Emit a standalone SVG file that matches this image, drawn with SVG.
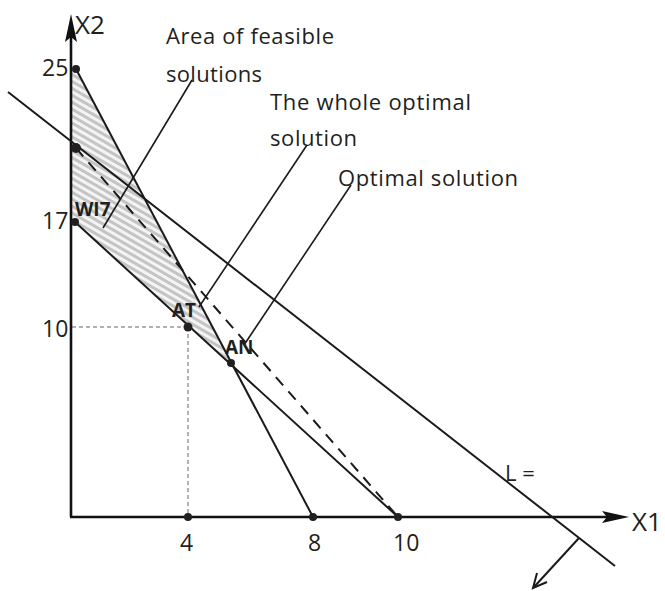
<svg xmlns="http://www.w3.org/2000/svg" width="665" height="591" viewBox="0 0 665 591">
<style>
text{font-family:"Open Sans","Liberation Sans",sans-serif;fill:#231f20}
.lbl{font-size:22px}
.num{font-size:23px}
.ax{font-size:26px}
.pt{font-size:19px;font-weight:bold}
.ln{stroke:#1a1a1a;stroke-width:2;fill:none}
.lead{stroke:#1a1a1a;stroke-width:1.6;fill:none}
.guide{stroke:#666;stroke-width:1;stroke-dasharray:4 3;fill:none}
.dot{fill:#231f20}
</style>
<defs>
<pattern id="hatch" width="6" height="6" patternUnits="userSpaceOnUse" patternTransform="rotate(-60)">
<rect width="6" height="6" fill="#f4f4f4"/>
<rect width="3" height="6" fill="#c4c4c4"/>
</pattern>
</defs>
<rect width="665" height="591" fill="#fff"/>
<g id="feasible-area">
<polygon points="72,69 76,69 231,363 75,222 72,222" fill="url(#hatch)"/>
</g>
<g id="guides">
<line class="guide" x1="72" y1="327" x2="188" y2="327"/>
<line class="guide" x1="188" y1="327" x2="188" y2="517"/>
</g>
<g id="axes">
<line x1="71" y1="517" x2="71" y2="30" stroke="#111" stroke-width="2.6"/>
<path d="M71,14 L77,42 L71,37 L65,42 Z" fill="#111"/>
<line x1="70" y1="517" x2="612" y2="517" stroke="#111" stroke-width="2.6"/>
<path d="M629,517 L602,511 L607,517 L602,523 Z" fill="#111"/>
<text class="ax" x="75" y="34">X2</text>
<text class="ax" x="632" y="531">X1</text>
</g>
<g id="connectors">
<line class="ln" x1="76" y1="69" x2="313" y2="517"/>
<line class="ln" x1="75" y1="222" x2="398" y2="517"/>
<line class="ln" x1="76" y1="148" x2="398" y2="517" stroke-dasharray="11 8"/>
<line class="ln" x1="8" y1="92" x2="615" y2="566"/>
<line class="ln" x1="579" y1="538" x2="534" y2="587"/>
<path class="ln" d="M537,573 L533,588 L547,582"/>
<line class="lead" x1="192" y1="80" x2="103" y2="228"/>
<line class="lead" x1="307" y1="145" x2="199" y2="307"/>
<line class="lead" x1="351" y1="185" x2="244" y2="345"/>
</g>
<g id="points">
<circle class="dot" cx="76" cy="69" r="4"/>
<circle class="dot" cx="76" cy="148" r="5"/>
<circle class="dot" cx="75" cy="222" r="4"/>
<circle class="dot" cx="188" cy="327" r="4.5"/>
<circle class="dot" cx="231" cy="363" r="4"/>
<circle class="dot" cx="188" cy="517" r="4"/>
<circle class="dot" cx="313" cy="517" r="4"/>
<circle class="dot" cx="398" cy="517" r="4"/>
</g>
<g id="axis-labels">
<text class="num" x="42" y="76">25</text>
<text class="num" x="42" y="229">17</text>
<text class="num" x="42" y="337">10</text>
<text class="num" x="180" y="551">4</text>
<text class="num" x="308" y="551">8</text>
<text class="num" x="393" y="551">10</text>
</g>
<g id="point-labels">
<text class="pt" x="75" y="216">WI7</text>
<text class="pt" x="172" y="317">AT</text>
<text class="pt" x="225" y="354">AN</text>
<text class="lbl" x="505" y="481">L =</text>
</g>
<g id="callouts">
<text class="lbl" x="166" y="44" textLength="168">Area of feasible</text>
<text class="lbl" x="166" y="82" textLength="96">solutions</text>
<text class="lbl" x="270" y="110" textLength="201">The whole optimal</text>
<text class="lbl" x="270" y="146" textLength="87">solution</text>
<text class="lbl" x="338" y="186" textLength="180">Optimal solution</text>
</g>
</svg>
